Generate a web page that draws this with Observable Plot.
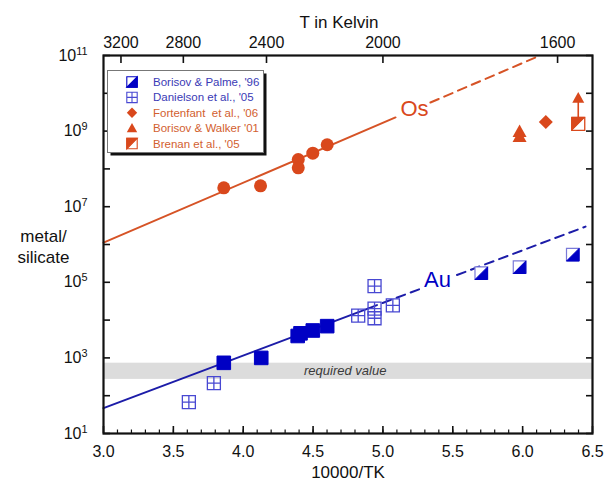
<!DOCTYPE html>
<html><head><meta charset="utf-8">
<script src="https://cdn.jsdelivr.net/npm/d3@7"></script>
<script src="https://cdn.jsdelivr.net/npm/@observablehq/plot@0.6"></script>
<style>
body{margin:0;background:#fff;}
#wrap{position:relative;width:605px;height:486px;font-family:"Liberation Sans",Arial,Helvetica,sans-serif;}
#legend{position:absolute;left:107px;top:70px;}
#legend text{white-space:pre;}
</style></head><body><div id="wrap"></div>
<script>
// ---- data ----
const osCircleX = [3.861, 4.124, 4.394, 4.394, 4.498, 4.601];
const osCircleY = [3.16e7, 3.57e7, 1.77e8, 1.07e8, 2.6e8, 4.35e8];
const walkerX = [5.978, 5.978];
const walkerY = [9.8e8, 7.2e8];
const fortenfantX = [6.166];
const fortenfantY = [1.74e9];
const brenanX = [6.398];
const brenanY = [1.55e9];
const brenanLimitY = [7.5e9];

const auFilledX = [3.861, 4.129, 4.39, 4.41, 4.498, 4.601];
const auFilledY = [741, 1000, 3800, 4470, 5310, 6920];
const auHalfX = [5.704, 5.978, 6.359];
const auHalfY = [1.74e5, 2.51e5, 5.37e5];
const danielsonX = [3.611, 3.79, 4.823, 4.94, 4.94, 4.94, 5.071];
const danielsonY = [67.6, 214, 1.32e4, 7.94e4, 2.0e4, 1.12e4, 2.45e4];

// fit lines (segment end points)
const osSolidX = [3.0, 5.09];
const osSolidY = [1.12e6, 2.3e9];
const osDashX = [5.34, 6.125];
const osDashY = [5.7e9, 1e11];
const auSolidX = [3.0, 4.897];
const auSolidY = [46.8, 2.05e4];
const auDash1X = [4.897, 5.27];
const auDash1Y = [2.05e4, 6.76e4];
const auDash2X = [5.53, 6.45];
const auDash2Y = [1.56e5, 2.97e6];

const bandLow = [270];
const bandHigh = [725];

// ticks and labels
const xTickVals = [3.0, 3.5, 4.0, 4.5, 5.0, 5.5, 6.0, 6.5];
const tempTicks = [3200, 2800, 2400, 2000, 1600];
const yTickVals = [1e1, 1e2, 1e3, 1e4, 1e5, 1e6, 1e7, 1e8, 1e9, 1e10, 1e11];
const yLabelVals = [1e1, 1e3, 1e5, 1e7, 1e9, 1e11];
const legendLabels = ["Borisov & Palme, '96", "Danielson et al., '05", "Fortenfant  et al., '06", "Borisov & Walker '01", "Brenan et al., '05"];
const elementLabels = ["Os", "Au"];
const elementLabelX = [5.226, 5.391];
const elementLabelY = [3.96e9, 1.12e5];
const bandText = ["required value"];
const bandTextX = [4.73];
const bandTextY = [445];

// ---- styles ----
const orange = "#d9481c", orangeLine = "#d65326", orangeText = "#d2602f";
const blueFill = "#0000c4", blueLine = "#1c1ca8", blueOpen = "#4848d2", blueText = "#3a3ab6";

// custom symbols (r = half extent)
const rad = s => Math.sqrt(s / Math.PI);
const sqSym = {draw(c, s){const r = rad(s); c.moveTo(-r,-r); c.lineTo(r,-r); c.lineTo(r,r); c.lineTo(-r,r); c.closePath();}};
const lrTri = {draw(c, s){const r = rad(s); c.moveTo(r,-r); c.lineTo(r,r); c.lineTo(-r,r); c.closePath();}};
const ulTri = {draw(c, s){const r = rad(s); c.moveTo(-r,-r); c.lineTo(r,-r); c.lineTo(-r,r); c.closePath();}};
const gridSym = {draw(c, s){const r = rad(s); c.moveTo(-r,-r); c.lineTo(r,-r); c.lineTo(r,r); c.lineTo(-r,r); c.closePath(); c.moveTo(0,-r); c.lineTo(0,r); c.moveTo(-r,0); c.lineTo(r,0);}};
const diaSym = {draw(c, s){const r = rad(s); c.moveTo(0,-r); c.lineTo(r,0); c.lineTo(0,r); c.lineTo(-r,0); c.closePath();}};
const triSym = {draw(c, s){const r = rad(s); c.moveTo(0,-r); c.lineTo(r,0.8*r); c.lineTo(-r,0.8*r); c.closePath();}};

const pts = (X, Y) => X.map((x, i) => ({x, y: Y[i]}));
const osCircles = pts(osCircleX, osCircleY);
const walker = pts(walkerX, walkerY);
const fortenfant = pts(fortenfantX, fortenfantY);
const brenan = pts(brenanX, brenanY);
const brenanArrow = brenanX.map((x, i) => ({x, y1: brenanY[i], y2: brenanLimitY[i]}));
const auFilled = pts(auFilledX, auFilledY);
const auHalf = pts(auHalfX, auHalfY);
const danielson = pts(danielsonX, danielsonY);
const seg = (X, Y) => pts(X, Y);
const band = [{x1: xTickVals[0], x2: xTickVals[xTickVals.length - 1], y1: bandLow[0], y2: bandHigh[0]}];
const elemLabels = elementLabels.map((t, i) => ({t, x: elementLabelX[i], y: elementLabelY[i]}));
const bandLabel = bandText.map((t, i) => ({t, x: bandTextX[i], y: bandTextY[i]}));

const fontFamily = '"Liberation Sans", Arial, Helvetica, sans-serif';
const minorX = d3.range(31, 65).map(v => v / 10);
const tempX = tempTicks.map(t => 10000 / t);

const chart = Plot.plot({
  width: 605, height: 486,
  marginLeft: 103, marginRight: 13, marginTop: 55, marginBottom: 53,
  style: {fontFamily, fontSize: "16px", color: "#111", background: "white", overflow: "visible"},
  x: {domain: [3, 6.5]},
  y: {type: "log", domain: [10, 1e11]},
  marks: [
    Plot.rect(band, {x1: "x1", x2: "x2", y1: "y1", y2: "y2", fill: "#dcdcdc"}),
    Plot.text(bandLabel, {x: "x", y: "y", text: "t", fontSize: 13, fontStyle: "italic", fill: "#3a3a3a"}),
    // fit lines
    Plot.line(seg(osSolidX, osSolidY), {x: "x", y: "y", stroke: orangeLine, strokeWidth: 2}),
    Plot.line(seg(osDashX, osDashY), {x: "x", y: "y", stroke: orangeLine, strokeWidth: 2, strokeDasharray: "9,6"}),
    Plot.line(seg(auSolidX, auSolidY), {x: "x", y: "y", stroke: blueLine, strokeWidth: 2}),
    Plot.line(seg(auDash1X, auDash1Y), {x: "x", y: "y", stroke: blueLine, strokeWidth: 2, strokeDasharray: "9,6"}),
    Plot.line(seg(auDash2X, auDash2Y), {x: "x", y: "y", stroke: blueLine, strokeWidth: 2, strokeDasharray: "9,6"}),
    // Au data
    Plot.dot(danielson, {x: "x", y: "y", symbol: gridSym, r: 6.5, fill: "none", stroke: blueOpen, strokeWidth: 1.3}),
    Plot.dot(auFilled, {x: "x", y: "y", symbol: sqSym, r: 6.8, fill: blueFill, stroke: blueFill, strokeWidth: 1}),
    Plot.dot(auHalf, {x: "x", y: "y", symbol: sqSym, r: 6.3, fill: "white", stroke: "#7a7ad8", strokeWidth: 1.2}),
    Plot.dot(auHalf, {x: "x", y: "y", symbol: lrTri, r: 6.3, fill: blueFill, stroke: blueFill, strokeWidth: 1}),
    // Os data
    Plot.dot(osCircles, {x: "x", y: "y", r: 6.5, fill: orange}),
    Plot.dot(walker, {x: "x", y: "y", symbol: triSym, r: 7, fill: orange}),
    Plot.dot(fortenfant, {x: "x", y: "y", symbol: diaSym, r: 7, fill: orange}),
    Plot.link(brenanArrow, {x1: "x", x2: "x", y1: "y1", y2: "y2", stroke: orange, strokeWidth: 1.6}),
    Plot.dot(brenanArrow, {x: "x", y: "y2", symbol: triSym, r: 6, fill: orange}),
    Plot.dot(brenan, {x: "x", y: "y", symbol: sqSym, r: 6.5, fill: "white", stroke: orange, strokeWidth: 1.3}),
    Plot.dot(brenan, {x: "x", y: "y", symbol: ulTri, r: 6.5, fill: orange, stroke: orange, strokeWidth: 1}),
    // element labels
    Plot.text(elemLabels, {x: "x", y: "y", text: "t", fontSize: 22, fill: (d) => d.t === "Os" ? orange : blueFill}),
    // frame
    Plot.frame({stroke: "#111", strokeWidth: 2.2}),
    // axes: ticks drawn inward (shifted back inside the frame)
    Plot.axisX(xTickVals, {anchor: "bottom", tickSize: 7, dy: -7, strokeWidth: 1.6, fill: "none", label: null}),
    Plot.axisX(minorX, {anchor: "bottom", tickSize: 3.5, dy: -3.5, strokeWidth: 1.2, fill: "none", label: null}),
    Plot.axisX(tempX, {anchor: "top", tickSize: 7, dy: 7, strokeWidth: 1.6, fill: "none", label: null}),
    Plot.axisY(yTickVals, {anchor: "left", tickSize: 7, dx: 7, strokeWidth: 1.6, fill: "none", label: null}),
    Plot.axisY(yTickVals, {anchor: "right", tickSize: 7, dx: -7, strokeWidth: 1.6, fill: "none", label: null}),
    // axes: labels
    Plot.axisX(xTickVals, {anchor: "bottom", tickSize: 0, tickPadding: 12, tickFormat: d3.format(".1f"), label: null, fontSize: 16}),
    Plot.axisX(tempX, {anchor: "top", tickSize: 0, tickPadding: 8, tickFormat: d => String(Math.round(10000 / d)), label: null, fontSize: 16}),
    Plot.axisY(yLabelVals, {anchor: "left", tickSize: 0, tickPadding: 16, tickFormat: d => "10^" + Math.round(Math.log10(d)), label: null, fontSize: 16}),
    // axis titles
    Plot.text(["T in Kelvin"], {text: d => d, frameAnchor: "top", lineAnchor: "middle", dy: -33, dx: -9, fontSize: 17}),
    Plot.text(["10000/TK"], {text: d => d, frameAnchor: "bottom", lineAnchor: "middle", dy: 39, fontSize: 17}),
    Plot.text(["metal/\nsilicate"], {text: d => d, frameAnchor: "left", textAnchor: "middle", lineAnchor: "middle", dx: -60, dy: 1, fontSize: 17, lineHeight: 1.28})
  ]
});

// superscripts on y tick labels
chart.querySelectorAll('g[aria-label="y-axis tick label"] text').forEach(t => {
  const m = t.textContent.match(/^10\^(\d+)$/);
  if (!m) return;
  t.textContent = "10";
  const ts = document.createElementNS("http://www.w3.org/2000/svg", "tspan");
  ts.setAttribute("dy", "-0.55em");
  ts.setAttribute("font-size", "0.68em");
  ts.textContent = m[1];
  t.appendChild(ts);
});

const wrap = document.getElementById("wrap");
wrap.appendChild(chart);

// legend overlay
const legendSyms = [
  [{sym: sqSym, fill: "white", stroke: blueFill}, {sym: lrTri, fill: blueFill, stroke: blueFill}],
  [{sym: gridSym, fill: "none", stroke: blueOpen}],
  [{sym: diaSym, fill: orange, stroke: "none"}],
  [{sym: triSym, fill: orange, stroke: "none"}],
  [{sym: sqSym, fill: "white", stroke: orange}, {sym: ulTri, fill: orange, stroke: orange}]
];
const legendColors = [blueText, blueText, orangeText, orangeText, orangeText];
const lg = d3.select(wrap).append("svg").attr("id", "legend").attr("width", 164).attr("height", 90)
  .style("font-family", fontFamily);
lg.append("rect").attr("x", 3.5).attr("y", 3.5).attr("width", 156).attr("height", 82).attr("fill", "#111");
lg.append("rect").attr("x", 0.5).attr("y", 0.5).attr("width", 156).attr("height", 82).attr("fill", "white").attr("stroke", "#777").attr("stroke-width", 1);
legendLabels.forEach((lab, i) => {
  const y = 12 + i * 15.4;
  legendSyms[i].forEach(s => {
    lg.append("path").attr("transform", `translate(25,${y})`)
      .attr("d", d3.symbol().type(s.sym).size(5.2 * 5.2 * Math.PI)())
      .attr("fill", s.fill).attr("stroke", s.stroke).attr("stroke-width", 1.1);
  });
  lg.append("text").attr("x", 46).attr("y", y).attr("dy", "0.35em").attr("font-size", 11.5)
    .attr("fill", legendColors[i]).text(lab);
});
</script>
</body></html>
